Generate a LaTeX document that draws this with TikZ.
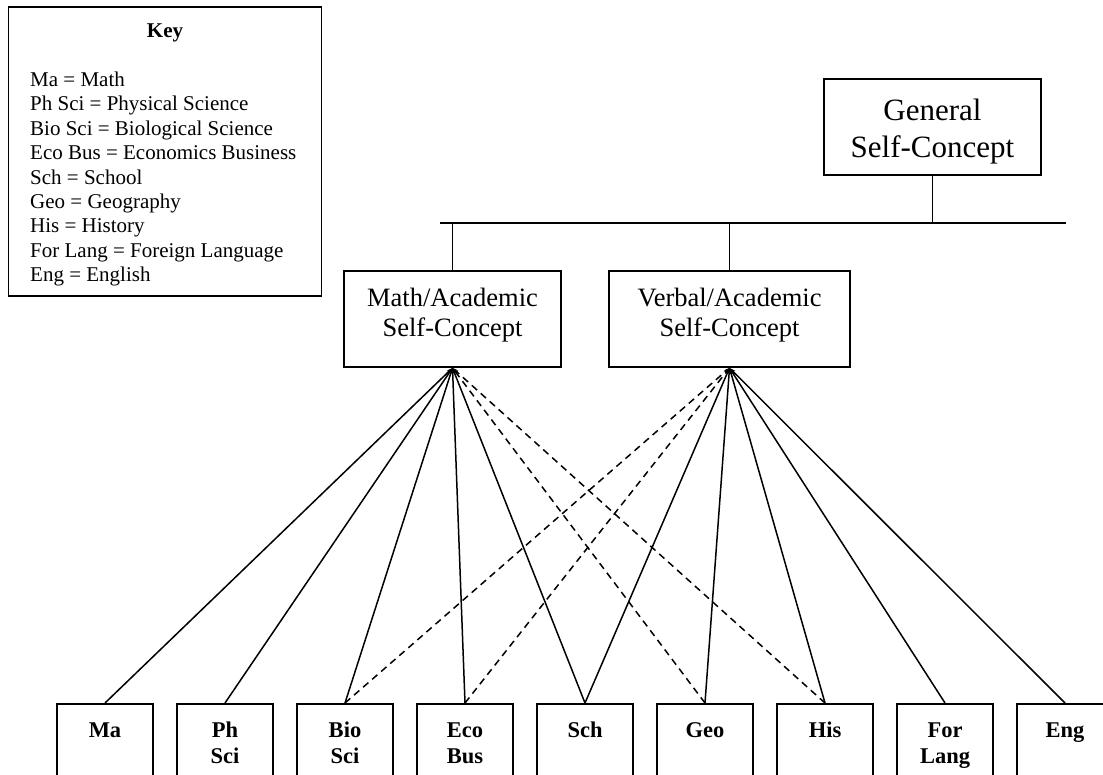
\documentclass[tikz,border=0pt]{standalone}
\usepackage{fontspec}
\setmainfont{Liberation Serif}
\usetikzlibrary{arrows.meta}

\begin{document}
\begin{tikzpicture}[x=1pt,y=-1pt,
  box/.style={draw,line width=1.9pt,inner sep=0pt},
  link/.style={line width=1.5pt},
  tip/.style={-{Stealth[length=6pt,width=4pt]}},
  solidlink/.style={link,tip},
  dashlink/.style={link,tip,dash pattern=on 7pt off 5pt},
  subj/.style={box,minimum width=96pt,minimum height=100pt,anchor=north},
  subjtext/.style={anchor=base,inner sep=0pt,font=\fontsize{22.5}{26}\selectfont\bfseries},
  midtext/.style={anchor=base,inner sep=0pt,font=\fontsize{26.5}{30}\selectfont},
]
\useasboundingbox (0,0) rectangle (1103,774);
\clip (0,0) rectangle (1103,774);

% key
\node[box,minimum width=313pt,minimum height=289pt] (key) at (165,151.2) {};
\node[anchor=base,inner sep=0pt,font=\fontsize{21}{24.4}\selectfont\bfseries] (keytitle) at (165,37.5) {Key};
\node[anchor=base west,inner sep=0pt,font=\fontsize{21}{24.4}\selectfont] (keylist) at (30,86.5)
  {\parbox[t]{290pt}{\raggedright
   Ma = Math\\
   Ph Sci = Physical Science\\
   Bio Sci = Biological Science\\
   Eco Bus = Economics Business\\
   Sch = School\\
   Geo = Geography\\
   His = History\\
   For Lang = Foreign Language\\
   Eng = English}};

% general self-concept
\node[box,minimum width=217pt,minimum height=96pt] (gen) at (932.5,127) {};
\node[anchor=base,inner sep=0pt,font=\fontsize{31}{37}\selectfont] (gentext) at (932.5,120)
  {\parbox[t]{210pt}{\centering General\\Self-Concept}};

% academic self-concepts
\node[box,minimum width=217pt,minimum height=96pt] (msc) at (452.5,319) {};
\node[midtext] (msctext) at (452.5,306) {\parbox[t]{210pt}{\centering Math/Academic\\Self-Concept}};
\node[box,minimum width=241pt,minimum height=96pt] (vsc) at (729.5,319) {};
\node[midtext] (vsctext) at (729.5,306) {\parbox[t]{235pt}{\centering Verbal/Academic\\Self-Concept}};

% hierarchy bar
\coordinate (barL) at (440,223);
\coordinate (barR) at (1066,223);
\draw[link] (barL) -- (barR);
\draw[link] (gen.south) -- (gen.south |- barL);
\draw[link] (msc.north) -- (msc.north |- barL);
\draw[link] (vsc.north) -- (vsc.north |- barL);

% school subjects
\node[subj] (ma)      at (105,703) {};
\node[subj] (phsci)   at (225,703) {};
\node[subj] (biosci)  at (345,703) {};
\node[subj] (ecobus)  at (465,703) {};
\node[subj] (sch)     at (585,703) {};
\node[subj] (geo)     at (705,703) {};
\node[subj] (his)     at (825,703) {};
\node[subj] (forlang) at (945,703) {};
\node[subj] (eng)     at (1065,703) {};

\node[subjtext] (matext)      at (105,737.3)  {\parbox[t]{90pt}{\centering Ma}};
\node[subjtext] (phscitext)   at (225,737.3)  {\parbox[t]{90pt}{\centering Ph\\Sci}};
\node[subjtext] (bioscitext)  at (345,737.3)  {\parbox[t]{90pt}{\centering Bio\\Sci}};
\node[subjtext] (ecobustext)  at (465,737.3)  {\parbox[t]{90pt}{\centering Eco\\Bus}};
\node[subjtext] (schtext)     at (585,737.3)  {\parbox[t]{90pt}{\centering Sch}};
\node[subjtext] (geotext)     at (705,737.3)  {\parbox[t]{90pt}{\centering Geo}};
\node[subjtext] (histext)     at (825,737.3)  {\parbox[t]{90pt}{\centering His}};
\node[subjtext] (forlangtext) at (945,737.3)  {\parbox[t]{90pt}{\centering For\\Lang}};
\node[subjtext] (engtext)     at (1065,737.3) {\parbox[t]{90pt}{\centering Eng}};

% loadings on the math/academic factor
\draw[solidlink] (ma.north)     -- (msc.south);
\draw[solidlink] (phsci.north)  -- (msc.south);
\draw[solidlink] (biosci.north) -- (msc.south);
\draw[solidlink] (ecobus.north) -- (msc.south);
\draw[solidlink] (sch.north)    -- (msc.south);
\draw[dashlink]  (geo.north)    -- (msc.south);
\draw[dashlink]  (his.north)    -- (msc.south);

% loadings on the verbal/academic factor
\draw[dashlink]  (biosci.north)  -- (vsc.south);
\draw[dashlink]  (ecobus.north)  -- (vsc.south);
\draw[solidlink] (sch.north)     -- (vsc.south);
\draw[solidlink] (geo.north)     -- (vsc.south);
\draw[solidlink] (his.north)     -- (vsc.south);
\draw[solidlink] (forlang.north) -- (vsc.south);
\draw[solidlink] (eng.north)     -- (vsc.south);
\end{tikzpicture}
\end{document}
